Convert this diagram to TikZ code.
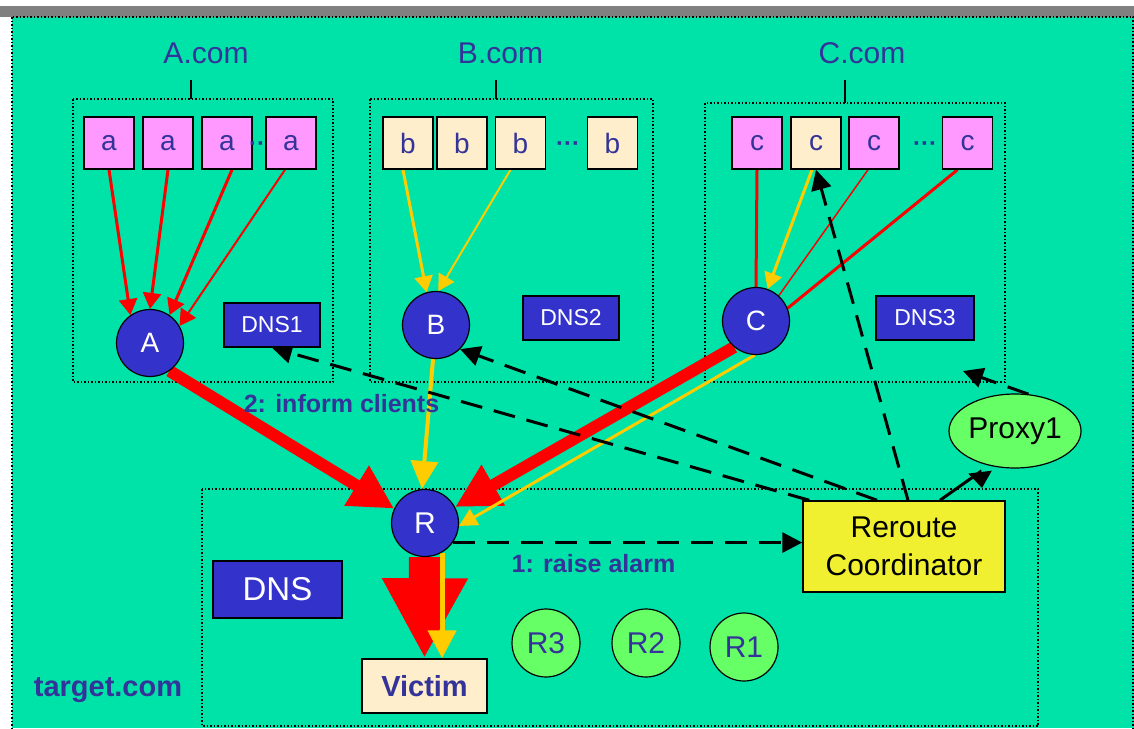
\documentclass[tikz,border=0pt]{standalone}
\usepackage{fontspec}
\setmainfont{Liberation Sans}
\usetikzlibrary{arrows.meta,shapes.geometric,calc}

\definecolor{bggreen}{HTML}{00E3A8}
\definecolor{labelblue}{HTML}{333399}
\definecolor{nodeblue}{HTML}{3333CC}
\definecolor{hostpink}{HTML}{FF99FF}
\definecolor{hostcream}{HTML}{FFEECC}
\definecolor{coordyellow}{HTML}{F0F030}
\definecolor{proxygreen}{HTML}{66FF66}
\definecolor{attackred}{HTML}{FF0000}
\definecolor{legitorange}{HTML}{FFCC00}
\definecolor{bargray}{HTML}{808080}

\pgfdeclarelayer{bg}
\pgfdeclarelayer{edges}
\pgfsetlayers{bg,edges,main}

\tikzset{
  lbl/.style={text=labelblue, anchor=base, inner sep=0pt},
  domtitle/.style={lbl, font={\fontsize{30}{36}\selectfont}},
  host/.style={draw=black, line width=1.5pt, minimum width=50pt, minimum height=52pt,
    inner sep=0pt, text=labelblue, font={\fontsize{28}{32}\selectfont}},
  pinkhost/.style={host, fill=hostpink},
  creamhost/.style={host, fill=hostcream},
  server/.style={circle, fill=nodeblue, draw=black, line width=1.2pt, minimum size=67pt,
    inner sep=0pt, text=white, font={\fontsize{28}{32}\selectfont}},
  dnsbox/.style={rectangle, fill=nodeblue, draw=black, line width=1.5pt, minimum width=96pt,
    minimum height=44pt, inner sep=0pt, text=white, font={\fontsize{23}{26}\selectfont}},
  router/.style={circle, fill=proxygreen, draw=black, line width=1.2pt, minimum size=68pt,
    inner sep=0pt, text=labelblue, font={\fontsize{30}{34}\selectfont}},
  groupbox/.style={draw=black, dotted, line width=1.5pt},
  ctrl/.style={draw=black, dash pattern=on 22pt off 12pt, line width=3pt,
    -{Triangle[length=20pt,width=20pt]}},
  attack/.style={draw=attackred, -{Triangle[length=16pt,width=18pt]}},
  legit/.style={draw=legitorange, -{Triangle[length=16pt,width=18pt]}},
  ellipsis/.style={text=labelblue, anchor=base, inner sep=0pt, font={\fontsize{24}{26}\selectfont\bfseries}},
}

\begin{document}
\begin{tikzpicture}[x=1pt, y=-1pt]
\useasboundingbox (0,0) rectangle (1134,728);

% ---------- background, frame and domain boxes ----------
\begin{pgfonlayer}{bg}
  \fill[bargray] (0,6) rectangle (1134,17);
  \fill[bggreen] (12,17) rectangle (1134,728);
  \draw[groupbox] (12,17) rectangle (1133,740);
  \draw[groupbox] (73,99) rectangle (333,382);
  \draw[groupbox] (370,99) rectangle (653,382);
  \draw[groupbox] (705,103) rectangle (1005,382);
  \draw[groupbox] (202,489) rectangle (1038,726);
  \draw[line width=1.5pt] (191,80) -- (191,99);
  \draw[line width=1.5pt] (496,80) -- (496,99);
  \draw[line width=1.5pt] (845,80) -- (845,103);
\end{pgfonlayer}

% ---------- domain titles ----------
\node[domtitle] (acom) at (206,63) {A.com};
\node[domtitle] (bcom) at (500.5,63) {B.com};
\node[domtitle] (ccom) at (862,63) {C.com};

% ---------- client hosts ----------
\node[pinkhost] (a1) at (109,143) {a};
\node[pinkhost] (a2) at (168,143) {a};
\node[pinkhost] (a3) at (227,143) {a};
\node[pinkhost] (a4) at (291,143) {a};
\node[ellipsis] (adots) at (257,151) {··};

\node[creamhost] (b1) at (408,143) {b};
\node[creamhost] (b2) at (462,143) {b};
\node[creamhost] (b3) at (520.5,143) {b};
\node[ellipsis] (bdots) at (568,151) {···};
\node[creamhost] (b4) at (612.5,143) {b};

\node[pinkhost] (c1) at (757,143) {c};
\node[creamhost] (c2) at (816,143) {c};
\node[pinkhost] (c3) at (874,143) {c};
\node[ellipsis] (cdots) at (925,151) {···};
\node[pinkhost] (c4) at (967.5,143) {c};

% ---------- resolvers and DNS servers ----------
\node[server] (A) at (150,343) {A};
\node[dnsbox] (DNS1) at (272,325) {DNS1};
\node[server] (B) at (436,325) {B};
\node[dnsbox] (DNS2) at (571,318) {DNS2};
\node[server] (C) at (756,321) {C};
\node[dnsbox, minimum width=98pt] (DNS3) at (925,318) {DNS3};

% ---------- target network ----------
\node[server, font={\fontsize{30}{34}\selectfont}] (R) at (425,523) {R};
\node[dnsbox, minimum width=129pt, minimum height=57pt, font={\fontsize{33}{36}\selectfont}] (DNS) at (277.5,589.5) {DNS};
\node[draw=black, line width=1.5pt, fill=hostcream, minimum width=125pt, minimum height=54pt,
      inner sep=0pt, text=labelblue, font={\fontsize{29}{32}\selectfont\bfseries}] (Victim) at (424.5,686) {Victim};
\node[router] (R3) at (546,643) {R3};
\node[router] (R2) at (646,643) {R2};
\node[router] (R1) at (744,647) {R1};
\node[draw=black, line width=1.5pt, fill=coordyellow, minimum width=202pt, minimum height=91pt,
      inner sep=0pt, align=center, font={\fontsize{30}{38}\selectfont}] (Reroute) at (904,546.5) {Reroute\\Coordinator};
\node[ellipse, draw=black, line width=1.2pt, fill=proxygreen, minimum width=125pt, minimum height=74pt,
      inner sep=0pt, font={\fontsize{30}{34}\selectfont}] (Proxy1) at (1015,431) {Proxy1};
\node[lbl, font={\fontsize{29}{34}\selectfont\bfseries}] (target) at (108,696) {target.com};

% free ends and bend of the proxy arrows
\coordinate (pbend) at (980,472);
\coordinate (pdown) at (982,488);
\coordinate (p3) at (963,371);

% ---------- connectors ----------
\begin{pgfonlayer}{edges}
  % requests from the clients to their resolvers
  \draw[attack, line width=3pt] (a1.south) -- (A.125);
  \draw[attack, line width=3pt] (a2.south) -- (A.90);
  \draw[attack, line width=3pt] ([xshift=5pt]a3.south) -- (A.55);
  \draw[attack, line width=2pt] ([xshift=-6pt]a4.south) -- (A.30);
  \draw[legit, line width=3pt] ([xshift=-5pt]b1.south) -- (B.106);
  \draw[legit, line width=2pt] ([xshift=-10pt]b3.south) -- (B.86);
  \draw[attackred, line width=3pt] (c1.south) -- (C.north);
  \draw[attackred, line width=1.5pt] ([xshift=-6pt]c3.south) -- (C.48);
  \draw[attackred, line width=3pt] ([xshift=-10pt]c4.south) -- (C.22);
  \draw[legit, line width=3pt] ([xshift=-4pt]c2.south) -- (C.70);

  % resolvers towards R
  \draw[attackred, line width=12pt, -{Triangle[length=44pt,width=44pt]}] (A.305) -- (R.155);
  \draw[attackred, line width=12pt, -{Triangle[length=44pt,width=44pt]}] (C.230) -- (R.28);
  \draw[legitorange, line width=4pt, -{Triangle[length=28pt,width=27pt]}] (B.265) -- (R.95);
  \draw[legitorange, line width=3pt, -{Triangle[length=18pt,width=18pt]}] (C.268) -- (R.-5);

  % R towards the victim
  \draw[attackred, line width=32pt, -{Triangle[length=80pt,width=80pt]}] (R.south) -- (Victim.north);
  \draw[legitorange, line width=5pt, -{Triangle[length=28pt,width=28pt]}] (R.300) -- (R.300 |- Victim.north);

  % control messages
  \draw[ctrl] (R.-35) -- (R.-35 -| Reroute.west);
  \draw[ctrl] ([xshift=7pt]Reroute.north west) -- (DNS1.south);
  \draw[ctrl] ([xshift=-27pt]Reroute.north) -- (B.-45);
  \draw[ctrl] ([xshift=4pt]Reroute.north) -- (c2.south);
  \draw[ctrl, dash pattern=on 40pt off 0pt, -{Triangle[length=16pt,width=23pt]}]
    ([xshift=36pt]Reroute.north) -- (pbend) -- (pdown);
  \draw[ctrl] (Proxy1.70) -- (p3);
\end{pgfonlayer}

% ---------- message labels ----------
\node[lbl, font={\fontsize{25}{30}\selectfont\bfseries}] (inform) at (341.5,412) {2: inform clients};
\node[lbl, font={\fontsize{25}{30}\selectfont\bfseries}] (alarm) at (593.5,572) {1: raise alarm};

\end{tikzpicture}
\end{document}
